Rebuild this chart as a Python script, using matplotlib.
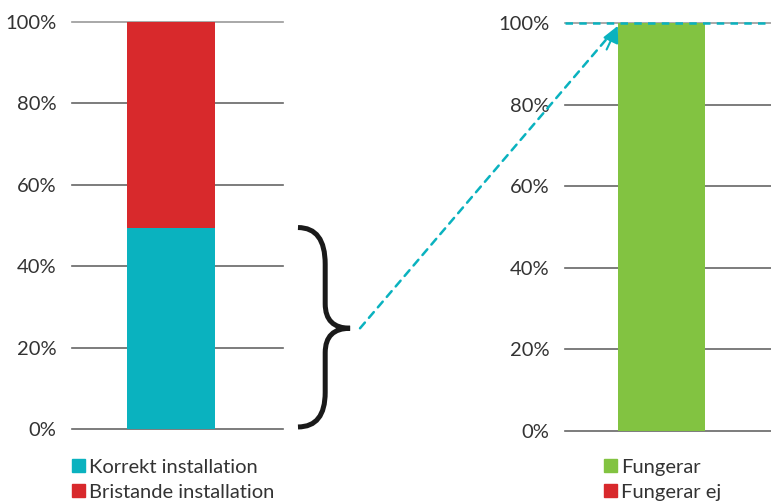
import matplotlib
matplotlib.use("Agg")
from matplotlib import pyplot as plt
from matplotlib import transforms
from matplotlib.path import Path
from matplotlib.patches import PathPatch, Patch

plt.rcParams['font.family'] = ['Lato', 'DejaVu Sans']

# data
left_labels = ['Korrekt installation', 'Bristande installation']
left_values = [49.5, 50.5]
right_labels = ['Fungerar', 'Fungerar ej']
right_values = [100, 0]
ticks = [0, 20, 40, 60, 80, 100]
tick_labels = ['0%', '20%', '40%', '60%', '80%', '100%']

cyan = '#0ab2bf'
red = '#d8292c'
green = '#82c341'
text_col = '#333333'
grid_col = '#666666'

fig = plt.figure(figsize=(7.71, 5.04), dpi=100)
W, H = 771, 504
ax1 = fig.add_axes([72 / W, 1 - 429 / H, 211 / W, 407 / H])
ax2 = fig.add_axes([565 / W, 1 - 431 / H, 206 / W, 408 / H])


def style(ax):
    ax.set_ylim(0, 100)
    ax.set_xlim(-1.125, 1.275)
    ax.set_yticks(ticks)
    ax.set_yticklabels(tick_labels)
    ax.tick_params(axis='y', length=0, pad=11, labelsize=14.5, labelcolor=text_col)
    ax.set_xticks([])
    for s in ax.spines.values():
        s.set_visible(False)
    for t in ticks:
        ax.axhline(t, color='#999999' if t == 100 else grid_col, lw=1.2,
                   zorder=0, clip_on=False)


style(ax1)
style(ax2)

# stacked bars
ax1.bar(0, left_values[0], width=1.0, color=cyan, zorder=2)
ax1.bar(0, left_values[1], width=1.0, bottom=left_values[0], color=red, zorder=2)
ax2.bar(0, right_values[0], width=1.02, color=green, zorder=2)
ax2.bar(0, right_values[1], width=1.02, bottom=right_values[0], color=red, zorder=2)

# dashed line at 100% on right chart
ax2.axhline(100, color=cyan, lw=1.8, ls=(0, (3, 2.5)), zorder=4, clip_on=False)

# brace around the correctly installed share
tr = transforms.blended_transform_factory(ax1.transAxes, ax1.transData)
top = left_values[0]
mid = top / 2
verts = [(1.071, top), (1.20, top), (1.20, top - 9),
         (1.20, mid + 6), (1.20, mid), (1.318, mid),
         (1.20, mid), (1.20, mid - 6),
         (1.20, 9), (1.20, 0.5), (1.071, 0.5)]
codes = [Path.MOVETO, Path.CURVE3, Path.CURVE3,
         Path.LINETO, Path.CURVE3, Path.CURVE3,
         Path.CURVE3, Path.CURVE3,
         Path.LINETO, Path.CURVE3, Path.CURVE3]
brace = PathPatch(Path(verts, codes), transform=tr, fill=False, lw=3.6,
                  edgecolor='#1a1a1a', clip_on=False, capstyle='butt')
fig.add_artist(brace)

# dashed arrow from brace to the right bar
start = (1.365, mid)
end = (-0.51, 99.3)
ax2.annotate('', xy=end, xycoords='data', xytext=start, textcoords=tr,
             arrowprops=dict(arrowstyle='-', color=cyan, lw=1.8,
                             ls=(0, (3, 2.5)), shrinkA=0, shrinkB=10))
ax2.annotate('', xy=end, xycoords='data', xytext=(-0.64, 93.5), textcoords='data',
             arrowprops=dict(arrowstyle='-|>,head_length=1.0,head_width=0.5',
                             color=cyan, lw=1.5, shrinkA=0, shrinkB=0),
             annotation_clip=False)

# legends
h1 = [Patch(color=cyan), Patch(color=red)]
leg1 = ax1.legend(h1, left_labels, loc='upper left', bbox_to_anchor=(0, -0.073),
                  frameon=False, handlelength=0.65, handleheight=0.65,
                  handletextpad=0.2, borderpad=0, borderaxespad=0,
                  labelspacing=0.4, fontsize=14.5, labelcolor=text_col)
h2 = [Patch(color=green), Patch(color=red)]
leg2 = ax2.legend(h2, right_labels, loc='upper left', bbox_to_anchor=(0.19, -0.068),
                  frameon=False, handlelength=0.65, handleheight=0.65,
                  handletextpad=0.2, borderpad=0, borderaxespad=0,
                  labelspacing=0.4, fontsize=14.5, labelcolor=text_col)

fig.savefig('out.png', dpi=100)
